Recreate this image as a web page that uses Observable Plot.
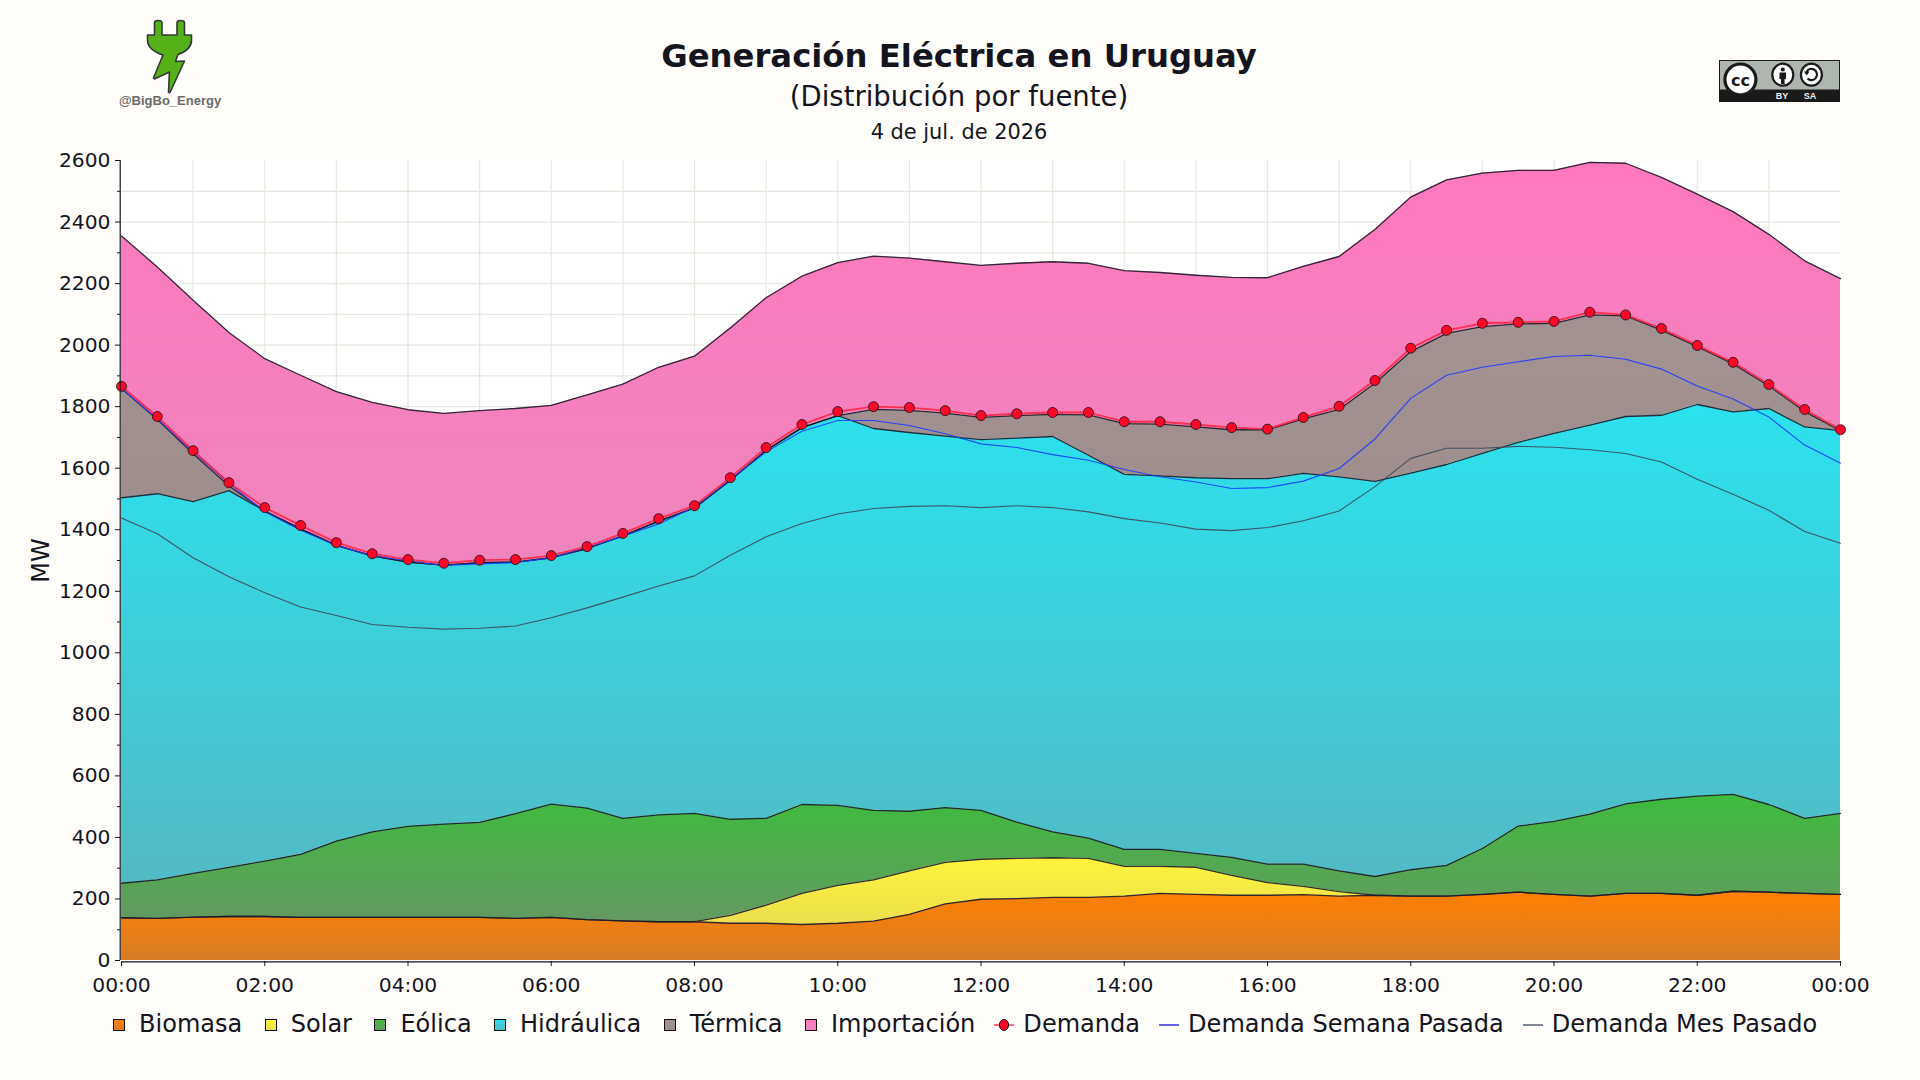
<!DOCTYPE html>
<html lang="es">
<head>
<meta charset="utf-8">
<title>Generación Eléctrica en Uruguay</title>
<script src="https://cdn.jsdelivr.net/npm/d3@7"></script>
<script src="https://cdn.jsdelivr.net/npm/@observablehq/plot@0.6"></script>
<style>
  html, body { margin: 0; padding: 0; background: #fffefa; width: 1920px; height: 1080px; overflow: hidden; }
  body { font-family: "DejaVu Sans", sans-serif; color: #14141e; position: relative; }
  #head { position: relative; height: 140px; }
  #head div { position: absolute; left: 0; width: 1918px; text-align: center; white-space: nowrap; }
  #titulo { top: 35.5px; font-size: 32.3px; font-weight: bold; line-height: 40px; }
  #subtitulo { top: 78px; font-size: 27.5px; line-height: 36px; }
  #fecha { top: 120px; font-size: 20.9px; line-height: 24px; }
  #logos { position: absolute; left: 0; top: 0; width: 1920px; height: 140px; }
  #chart svg { display: block; }
  #leyenda { display: flex; align-items: center; position: absolute; left: 113px; top: 1005.5px; font-size: 24.05px; line-height: 36px; white-space: nowrap; }
  #leyenda .item { display: flex; align-items: center; }
  #leyenda .sw { width: 10px; height: 10px; border: 1.2px solid #111; margin-right: 14px; margin-left: 22.4px; margin-top: 3px; }
  #leyenda .item:first-child .sw { margin-left: 0; }
  #leyenda svg { margin-left: 19px; margin-right: 9px; margin-top: 3px; }
</style>
</head>
<body>
<div id="head">
  <div id="titulo">Generación Eléctrica en Uruguay</div>
  <div id="subtitulo">(Distribución por fuente)</div>
  <div id="fecha">4 de jul. de 2026</div>
  <svg id="logos" viewBox="0 0 1920 140" xmlns="http://www.w3.org/2000/svg">
    <path d="M154.5,35 V23 Q154.5,20.5 158,20.5 Q162,20.5 162,23 V35 H177 V23 Q177,20.5 180.5,20.5 Q184.5,20.5 184.5,23 V35 H191.5 V40 Q191.5,50 178,54.5 L175.5,61.5 L184.5,61 L170,92.5 L168.5,92.5 L169.4,72 L154.5,79 L153.5,78 L163,55 Q147.5,50 147.5,40 V35 Z" fill="#56b018" stroke="#33383a" stroke-width="1.6" stroke-linejoin="round"/>
    <text x="170" y="105" text-anchor="middle" font-family="Liberation Sans" font-weight="bold" font-size="13" fill="#6a6a6a">@BigBo_Energy</text>
    <rect x="1719.5" y="60.5" width="120" height="41" fill="#aeb5ae" stroke="#1a1a1a"/>
    <rect x="1719" y="89.5" width="121" height="12" fill="#1a1a1a"/>
    <circle cx="1740.4" cy="79.5" r="15.5" fill="#fff" stroke="#1a1a1a" stroke-width="3.2"/>
    <text x="1740.4" y="85.5" text-anchor="middle" font-family="DejaVu Sans" font-weight="bold" font-size="16" fill="#1a1a1a">cc</text>
    <ellipse cx="1782.8" cy="74.7" rx="10.5" ry="11" fill="#fff" stroke="#1a1a1a" stroke-width="2.2"/>
    <circle cx="1782.8" cy="69.5" r="2.1" fill="#1a1a1a"/>
    <path d="M1779.5,72.5 H1786 V79 H1784.6 V84 H1781 V79 H1779.5 Z" fill="#1a1a1a"/>
    <ellipse cx="1811.4" cy="74.7" rx="10.5" ry="11" fill="#fff" stroke="#1a1a1a" stroke-width="2.2"/>
    <path d="M1806.5,72 A5.5,5.7 0 1 1 1807.5,78.5" fill="none" stroke="#1a1a1a" stroke-width="2.2"/>
    <path d="M1804,71.5 L1809.5,71.5 L1806.7,75.5 Z" fill="#1a1a1a"/>
    <text x="1782" y="99" text-anchor="middle" font-family="Liberation Sans" font-weight="bold" font-size="9" fill="#f0f0f0">BY</text>
    <text x="1810" y="99" text-anchor="middle" font-family="Liberation Sans" font-weight="bold" font-size="9" fill="#f0f0f0">SA</text>
  </svg>
</div>
<div id="chart"></div>
<div id="leyenda"></div>
<script>
// Half-hour readings of the day; each *Top array is the upper edge of that source in the stack (MW).
const horas = d3.range(49).map(i => i / 2);
const biomasaTop = [139,137,141,143,143,140,140,140,140,140,140,137,140,133,129,126,126,
  121,121,117,121,128,150,184,199,201,205,205,209,218,215,212,212,
  214,209,212,209,209,215,222,215,209,218,218,212,225,222,218,215];
const solarTop = [139,137,141,143,143,140,140,140,140,140,140,137,140,133,129,126,126,
  147,180,218,244,262,291,319,329,332,334,332,306,306,303,277,253,
  241,224,212,209,209,215,222,215,209,218,218,212,225,222,218,215];
const eolicaTop = [251,262,283,303,323,345,388,418,436,443,449,477,508,495,462,473,478,
  459,462,507,504,488,485,497,488,450,418,398,361,361,348,335,313,
  313,291,273,295,309,364,437,452,476,509,524,534,540,507,462,478];
const hidraulicaTop = [1504,1517,1491,1527,1461,1403,1349,1315,1295,1285,1293,1295,1309,1339,1380,1428,1471,
  1561,1658,1732,1771,1729,1716,1704,1693,1698,1703,1642,1580,1575,1569,1566,1566,
  1583,1572,1557,1584,1612,1648,1684,1713,1740,1768,1772,1807,1783,1794,1734,1722];
const termicaTop = [1859,1758,1647,1542,1461,1403,1349,1315,1295,1285,1293,1295,1309,1339,1380,1428,1471,
  1561,1658,1732,1771,1791,1788,1779,1765,1771,1775,1773,1745,1743,1734,1725,1725,
  1760,1791,1876,1979,2038,2060,2069,2071,2098,2095,2049,1995,1939,1867,1784,1722];
const importacionTop = [2355,2254,2146,2041,1956,1902,1849,1814,1790,1778,1787,1794,1804,1838,1873,1928,1964,
  2056,2154,2224,2268,2289,2283,2271,2259,2266,2271,2266,2242,2236,2227,2220,2219,
  2256,2288,2376,2481,2537,2559,2568,2568,2594,2591,2545,2491,2434,2360,2274,2216];
const demanda = [1866,1768,1657,1553,1472,1414,1358,1322,1303,1291,1301,1303,1316,1345,1388,1436,1478,
  1569,1667,1742,1784,1800,1797,1787,1771,1777,1781,1781,1751,1751,1742,1732,1727,
  1765,1801,1885,1990,2048,2071,2074,2077,2107,2098,2054,1999,1944,1872,1791,1725];
const semanaPasada = [1859,1760,1653,1550,1458,1398,1349,1316,1299,1284,1289,1293,1309,1342,1379,1419,1474,
  1563,1653,1720,1755,1755,1739,1712,1679,1667,1644,1626,1596,1572,1555,1534,1537,
  1558,1599,1695,1827,1902,1928,1946,1963,1967,1954,1922,1867,1825,1766,1675,1616];
const mesPasado = [1438,1387,1309,1247,1195,1149,1121,1092,1083,1077,1080,1087,1114,1146,1181,1217,1250,
  1317,1377,1420,1451,1469,1476,1478,1472,1478,1472,1458,1436,1422,1402,1397,1407,
  1429,1461,1540,1632,1665,1665,1671,1668,1660,1648,1620,1564,1515,1463,1394,1356];

const fuentes = ["Biomasa","Solar","Eólica","Hidráulica","Térmica","Importación"];
const colorArriba = ["#ff8000","#fff33a","#3fbb3d","#2ae2ee","#a29292","#ff78bd"];
const colorAbajo  = ["#d87b26","#ecdf4f","#639a60","#52bac5","#9c8c8c","#ef85bc"];
const topes = [biomasaTop, solarTop, eolicaTop, hidraulicaTop, termicaTop, importacionTop];

const horasMayores = d3.range(0, 25, 2);
const horasTodas = d3.range(0, 25, 1);
const mwMayores = d3.range(0, 2601, 200);
const mwMenores = d3.range(100, 2600, 200);
const mwGrid = d3.range(100, 2600, 100);

const fmtHora = h => String(h % 24).padStart(2, "0") + ":00";

const gradientes = () => {
  const defs = d3.create("svg:defs");
  fuentes.forEach((f, i) => {
    const g = defs.append("linearGradient").attr("id", "g" + i).attr("x1", 0).attr("y1", 0).attr("x2", 0).attr("y2", 1);
    g.append("stop").attr("offset", "0%").attr("stop-color", colorArriba[i]);
    g.append("stop").attr("offset", "100%").attr("stop-color", colorAbajo[i]);
  });
  return defs.node();
};

const plot = Plot.plot({
  width: 1920,
  height: 860,
  marginLeft: 121,
  marginRight: 80,
  marginTop: 20,
  marginBottom: 40,
  style: { background: "transparent", fontFamily: "DejaVu Sans", color: "#14141e", overflow: "visible" },
  x: { domain: [0, 24], label: null },
  y: { domain: [0, 2600], label: null },
  marks: [
    gradientes,
    Plot.frame({ fill: "#ffffff", stroke: null }),
    Plot.gridX(horasTodas.slice(1, -1), { stroke: "#e9e8e0", strokeOpacity: 1, strokeWidth: 1.3 }),
    Plot.gridY(mwGrid, { stroke: "#e9e8e0", strokeOpacity: 1, strokeWidth: 1.3 }),
    ...topes.map((top, i) => Plot.areaY(horas, {
      x: horas, y1: i === 0 ? 0 : topes[i - 1], y2: top, fill: `url(#g${i})`
    })),
    ...topes.map(top => Plot.line(horas, {
      x: horas, y: top, stroke: "#1c1c28", strokeWidth: 1.3, strokeOpacity: 0.9
    })),
    Plot.line(horas, { x: horas, y: mesPasado, stroke: "#3c4a5c", strokeWidth: 1.1, strokeOpacity: 0.9 }),
    Plot.line(horas, { x: horas, y: semanaPasada, stroke: "#1a3cff", strokeWidth: 1.1, strokeOpacity: 0.9 }),
    Plot.line(horas, { x: horas, y: demanda, stroke: "#ff2040", strokeWidth: 1.8, strokeOpacity: 0.85 }),
    Plot.dot(horas, { x: horas, y: demanda, r: 5, fill: "#ff0628", stroke: "#111", strokeWidth: 0.8 }),
    Plot.ruleX([0], { dx: -1.3, y1: 0, y2: 2600, stroke: "#14141e", strokeWidth: 1.2 }),
    Plot.ruleY([0], { dy: 1.3, stroke: "#14141e", strokeWidth: 1.2 }),
    Plot.axisY({ ticks: mwMayores, tickSize: 5, tickPadding: 5, fontSize: 20.3, dx: -1, label: null, tickFormat: d => String(d) }),
    Plot.axisY({ ticks: mwMenores, tickSize: 3, dx: -1, label: null, tickFormat: () => "" }),
    Plot.axisX({ ticks: horasMayores, tickSize: 5, tickPadding: 11, fontSize: 20.3, dy: 1, label: null, tickFormat: fmtHora }),
    Plot.text(["MW"], { frameAnchor: "left", textAnchor: "middle", rotate: -90, dx: -80, fontSize: 24 })
  ]
});
document.getElementById("chart").appendChild(plot);

const leyenda = d3.select("#leyenda");
fuentes.forEach((f, i) => {
  const it = leyenda.append("div").attr("class", "item");
  it.append("div").attr("class", "sw").style("background", `linear-gradient(${colorArriba[i]}, ${colorAbajo[i]})`);
  it.append("span").text(f);
});
const lineaLeyenda = (nombre, color, conPunto) => {
  const it = leyenda.append("div").attr("class", "item");
  const s = it.append("svg").attr("width", 20).attr("height", 14).attr("viewBox", "0 0 20 14");
  s.append("line").attr("x1", 0).attr("x2", 20).attr("y1", 7).attr("y2", 7).attr("stroke", color).attr("stroke-width", 1.3);
  if (conPunto) s.append("ellipse").attr("cx", 10).attr("cy", 7).attr("rx", 4.6).attr("ry", 5.5).attr("fill", "#ff0628").attr("stroke", "#111");
  it.append("span").text(nombre);
};
lineaLeyenda("Demanda", "#ff2040", true);
lineaLeyenda("Demanda Semana Pasada", "#1010e0", false);
lineaLeyenda("Demanda Mes Pasado", "#3c4a5c", false);
</script>
</body>
</html>
